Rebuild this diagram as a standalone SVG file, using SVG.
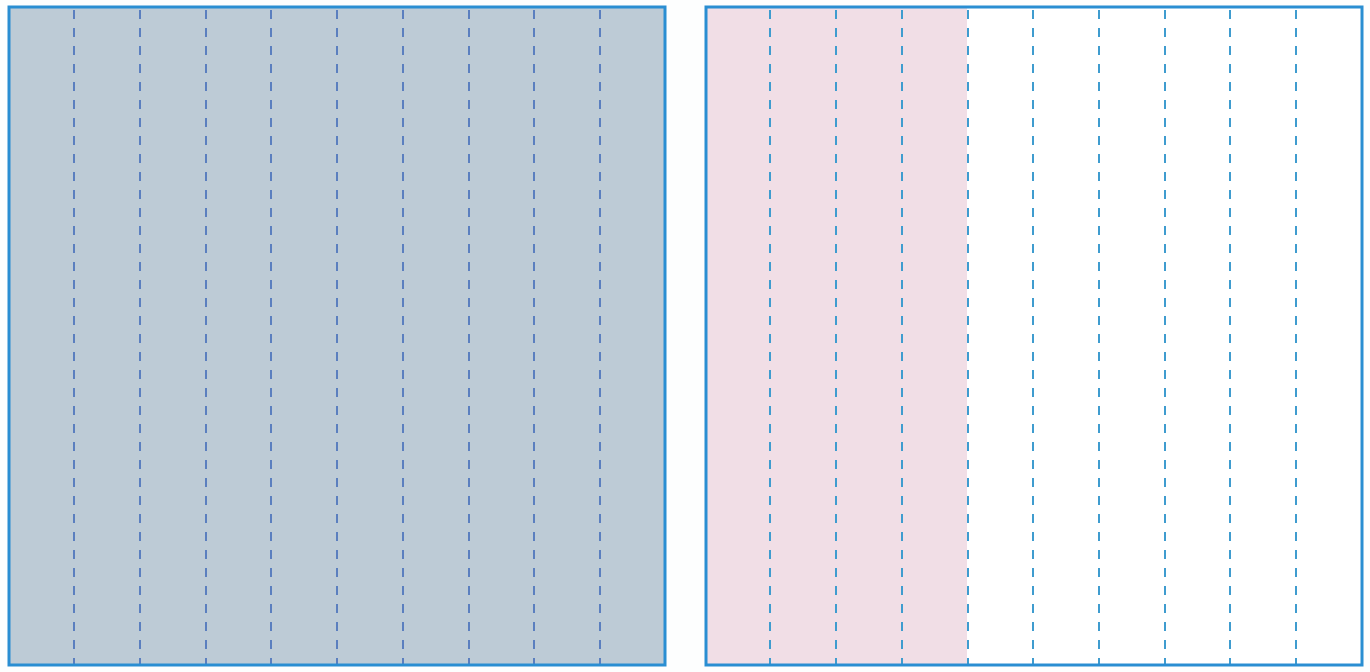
<svg xmlns="http://www.w3.org/2000/svg" width="1370" height="672" viewBox="0 0 1370 672">
<style>
.frame{fill:none;stroke:#2a8ed2;stroke-width:3}
.dl{stroke:#5b7fbf;stroke-width:2;stroke-dasharray:9 9}
.dr{stroke:#3f9ccf;stroke-width:2;stroke-dasharray:9 9}
</style>
<rect width="1370" height="672" fill="#fdfefe"/>
<g id="left-square">
<rect x="9" y="7" width="656" height="658" fill="#bdcbd6"/>
<g>
<line class="dl" x1="74" y1="10" x2="74" y2="664"/>
<line class="dl" x1="140" y1="10" x2="140" y2="664"/>
<line class="dl" x1="206" y1="10" x2="206" y2="664"/>
<line class="dl" x1="271" y1="10" x2="271" y2="664"/>
<line class="dl" x1="337" y1="10" x2="337" y2="664"/>
<line class="dl" x1="403" y1="10" x2="403" y2="664"/>
<line class="dl" x1="469" y1="10" x2="469" y2="664"/>
<line class="dl" x1="534" y1="10" x2="534" y2="664"/>
<line class="dl" x1="600" y1="10" x2="600" y2="664"/>
</g>
<rect class="frame" x="9" y="7" width="656" height="658"/>
</g>
<g id="right-square">
<rect x="706" y="7" width="656" height="658" fill="#ffffff"/>
<rect x="706" y="7" width="261" height="658" fill="#f1dee6"/>
<g>
<line class="dr" x1="770" y1="10" x2="770" y2="664"/>
<line class="dr" x1="836" y1="10" x2="836" y2="664"/>
<line class="dr" x1="902" y1="10" x2="902" y2="664"/>
<line class="dr" x1="968" y1="10" x2="968" y2="664"/>
<line class="dr" x1="1033" y1="10" x2="1033" y2="664"/>
<line class="dr" x1="1099" y1="10" x2="1099" y2="664"/>
<line class="dr" x1="1165" y1="10" x2="1165" y2="664"/>
<line class="dr" x1="1230" y1="10" x2="1230" y2="664"/>
<line class="dr" x1="1296" y1="10" x2="1296" y2="664"/>
</g>
<rect class="frame" x="706" y="7" width="656" height="658"/>
</g>
</svg>
